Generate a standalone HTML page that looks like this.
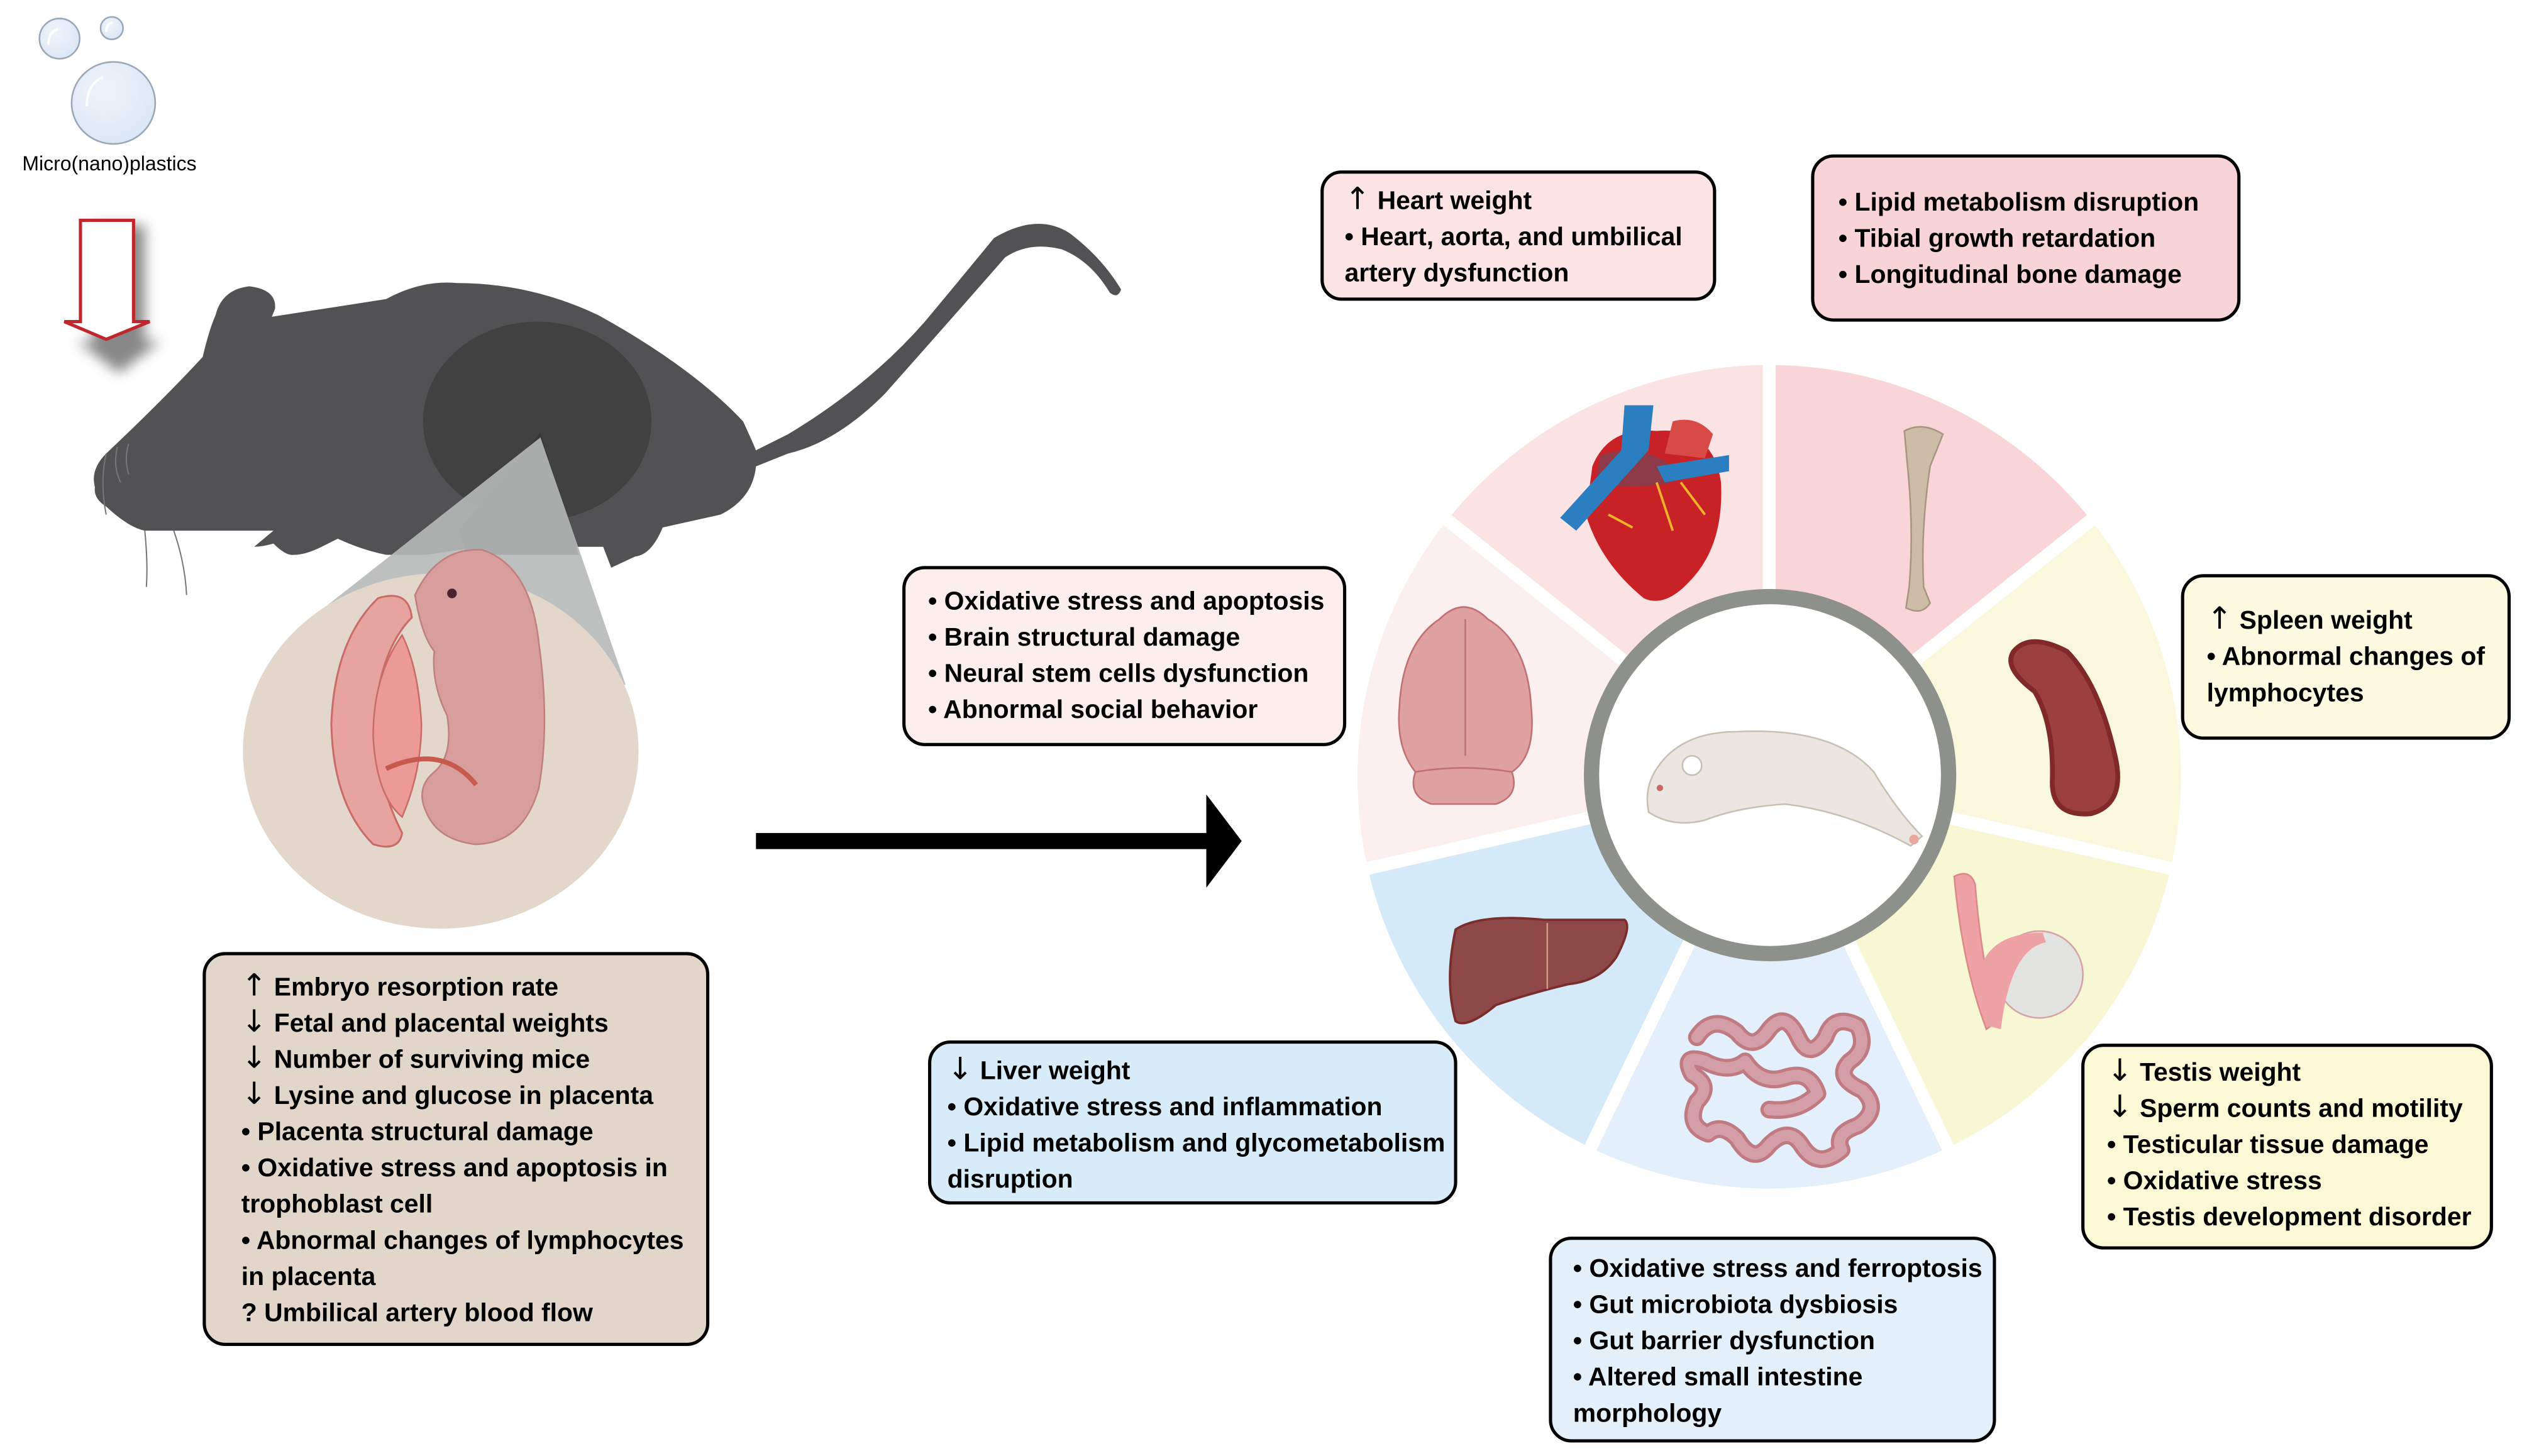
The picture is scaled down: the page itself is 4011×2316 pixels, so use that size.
<!DOCTYPE html>
<html><head><meta charset="utf-8"><style>
html,body{margin:0;padding:0;background:#fff}
svg{display:block}
text{font-family:"Liberation Sans",sans-serif;font-weight:bold;font-size:16px;fill:#000}
.ar{font-family:"DejaVu Sans",sans-serif;font-weight:normal;font-size:19px}
</style></head><body>
<svg width="4011" height="2316" viewBox="0 0 1568 905.4" xmlns="http://www.w3.org/2000/svg">
<defs>
<filter id="sh" x="-50%" y="-50%" width="200%" height="200%"><feGaussianBlur stdDeviation="4"/></filter>
<radialGradient id="bub" cx="0.4" cy="0.35" r="0.7"><stop offset="0" stop-color="#eef4fb"/><stop offset="1" stop-color="#dbe7f5"/></radialGradient>
</defs>
<rect width="1568" height="905.4" fill="#fff"/>

<!-- bubbles -->
<g stroke="#9aa7b8" stroke-width="1" fill="url(#bub)">
<ellipse cx="37" cy="24" rx="12.5" ry="12.5"/>
<ellipse cx="69.5" cy="17.5" rx="7" ry="7"/>
<ellipse cx="70.5" cy="64" rx="26" ry="25.5"/>
</g>
<g fill="none" stroke="#fff" stroke-width="1.5"><path d="M30 28 Q30 20 36 18"/><path d="M54 66 Q54 52 64 48"/><path d="M66 20 Q66 15 70 14"/></g>
<text x="68" y="106" text-anchor="middle" style="font-weight:normal;font-size:12.5px">Micro(nano)plastics</text>

<!-- red arrow -->
<path d="M58 140 h32 v72 h10 l-26 20 l-26 -20 h10z" fill="#555" filter="url(#sh)" opacity="0.7"/>
<path d="M50 137 h33 v63 h10 l-27 11 l-26 -11 h10z" fill="#fff" stroke="#c0272d" stroke-width="2"/>

<!-- mouse -->
<g fill="#525153">
<path d="M59 303 Q56 292 66 282 Q100 250 126 222 Q130 205 134 196 Q138 180 155 178 Q172 180 171 192 L169 197 L240 186 Q262 174 284 176 Q330 176 372 196 Q430 228 462 262 Q468 275 470 280 L490 270 Q540 240 575 200 Q600 170 618 148 Q645 132 665 145 Q685 160 697 180 Q695 186 690 182 Q678 162 660 155 Q640 150 625 160 Q590 200 550 245 Q520 275 490 282 L470 290 Q468 310 448 320 L412 328 Q405 345 395 346 L380 353 L375 340 L360 340 Q345 342 325 336 Q300 340 265 345 L240 345 Q225 342 210 335 L200 340 Q190 345 183 345 Q178 346 170 338 Q163 340 158 340 L170 330 Q140 330 90 330 Q80 328 66 315 Q58 310 59 303Z"/>
</g>
<ellipse cx="334" cy="262" rx="71" ry="62" fill="#414142"/>
<path d="M336 269 L285 330 L290 345 L360 345Z" fill="#383839"/>
<g stroke="#777" stroke-width="0.8" fill="none"><path d="M66 282 Q62 300 66 320"/><path d="M73 278 Q70 290 75 300"/><path d="M80 276 Q77 285 80 295"/><path d="M90 330 Q92 350 91 365"/><path d="M108 330 Q115 350 116 370"/></g>

<!-- beige circle with cone -->
<path d="M204 376 L336 272 L389 426Z" fill="#b7b9b9" opacity="0.9"/>
<ellipse cx="274" cy="467" rx="123" ry="110.5" fill="#e3d6cb"/>
<!-- embryo -->
<g>
<path d="M235 372 Q208 398 206 450 Q207 500 232 525 Q248 530 250 518 Q228 475 236 425 Q242 398 256 384 Q254 366 235 372Z" fill="#e7a3a0" stroke="#c96b66" stroke-width="1.2"/>
<path d="M250 395 Q232 420 232 458 Q234 495 250 508 Q262 480 262 450 Q260 415 250 395Z" fill="#eb9a97" stroke="#c96b66" stroke-width="1"/>
<path d="M258 370 Q272 340 300 342 Q330 352 335 400 Q342 450 335 490 Q325 525 295 525 Q272 522 265 505 Q258 490 270 480 Q282 470 278 445 Q268 425 270 405 Q262 395 258 370Z" fill="#d89e9d" stroke="#c08080" stroke-width="1"/>
<circle cx="281" cy="369" r="3" fill="#4a2530"/>
<path d="M240 478 Q275 462 296 488" stroke="#c65a4e" stroke-width="3" fill="none"/>
</g>

<!-- left text box -->
<rect x="127" y="593" width="313" height="243" rx="13" fill="#e2d6cb" stroke="#000" stroke-width="2"/>
<g>
<text x="150" y="619"><tspan class="ar">↑</tspan> Embryo resorption rate</text>
<text x="150" y="641.5"><tspan class="ar">↓</tspan> Fetal and placental weights</text>
<text x="150" y="664"><tspan class="ar">↓</tspan> Number of surviving mice</text>
<text x="150" y="686.5"><tspan class="ar">↓</tspan> Lysine and glucose in  placenta</text>
<text x="150" y="709">• Placenta structural damage</text>
<text x="150" y="731.5">• Oxidative stress and apoptosis in</text>
<text x="150" y="754">trophoblast cell</text>
<text x="150" y="776.5">• Abnormal changes of lymphocytes</text>
<text x="150" y="799">in  placenta</text>
<text x="150" y="821.5">? Umbilical artery blood flow</text>
</g>

<!-- big arrow -->
<rect x="470" y="518" width="284" height="10" fill="#000"/>
<path d="M750 494 L772 523 L750 552Z" fill="#000"/>

<!-- wheel -->
<g>
<path d="M1100 483 L1100 227 A256 256 0 0 1 1300.1 323.4Z" fill="#f9d5d7"/>
<path d="M1100 483 L1300.1 323.4 A256 256 0 0 1 1349.6 540Z" fill="#f9f8dc"/>
<path d="M1100 483 L1349.6 540 A256 256 0 0 1 1211.1 713.7Z" fill="#f8f7d3"/>
<path d="M1100 483 L1211.1 713.7 A256 256 0 0 1 988.9 713.7Z" fill="#e3effa"/>
<path d="M1100 483 L988.9 713.7 A256 256 0 0 1 850.4 540Z" fill="#d5eaf8"/>
<path d="M1100 483 L850.4 540 A256 256 0 0 1 899.9 323.4Z" fill="#fcefef"/>
<path d="M1100 483 L899.9 323.4 A256 256 0 0 1 1100 227Z" fill="#fbe3e3"/>
<g stroke="#fff" stroke-width="8">
<line x1="1100" y1="483" x2="1100" y2="220"/>
<line x1="1100" y1="483" x2="1305.6" y2="319"/>
<line x1="1100" y1="483" x2="1356.4" y2="541.6"/>
<line x1="1100" y1="483" x2="1214.2" y2="720"/>
<line x1="1100" y1="483" x2="985.8" y2="720"/>
<line x1="1100" y1="483" x2="843.6" y2="541.6"/>
<line x1="1100" y1="483" x2="894.4" y2="319"/>
</g>
<circle cx="1100.5" cy="482" r="111" fill="#fff" stroke="#8e918b" stroke-width="9.5"/>
</g>

<!-- organs -->
<!-- heart -->
<path d="M990 290 Q1000 265 1030 268 Q1065 265 1070 300 Q1072 340 1050 362 Q1035 378 1022 372 Q995 350 986 320Z" fill="#c92226"/>
<path d="M995 283 Q1020 275 1040 290 L1040 300 Q1015 305 992 300Z" fill="#8e3a48"/>
<path d="M1040 262 Q1055 258 1065 270 L1060 285 L1035 282Z" fill="#d84a45"/>
<path d="M1010 252 L1028 252 L1025 280 L980 330 L970 322 L1008 280Z" fill="#2b7fc0"/>
<path d="M1030 290 L1075 283 L1075 293 L1035 300Z" fill="#2b7fc0"/>
<g stroke="#f0b429" stroke-width="1.5" fill="none"><path d="M1030 300 L1040 330"/><path d="M1045 300 L1060 320"/><path d="M1000 320 L1015 328"/></g>
<!-- bone -->
<path d="M1184 268 Q1195 262 1208 270 L1200 290 Q1194 330 1196 365 L1200 375 Q1195 383 1185 378 L1187 365 Q1190 330 1186 290Z" fill="#cdbca7" stroke="#a89680" stroke-width="1"/>
<!-- spleen -->
<path d="M1252 405 Q1262 393 1285 405 Q1305 425 1315 470 Q1322 500 1300 506 Q1275 508 1276 485 Q1277 450 1265 430 Q1245 415 1252 405Z" fill="#9b3f3f" stroke="#80282a" stroke-width="3"/>
<!-- testis -->
<path d="M1215 545 Q1225 540 1228 550 Q1232 600 1242 635 L1235 640 Q1220 600 1215 545Z" fill="#eea2a6" stroke="#d88" stroke-width="1"/>
<circle cx="1268" cy="606" r="27" fill="#e3e3e1" stroke="#d6a3a3" stroke-width="1"/>
<path d="M1232 600 Q1240 580 1270 580 L1272 586 Q1250 590 1244 640 L1236 638Z" fill="#eea2a6"/>
<!-- intestine -->
<g fill="none" stroke-linecap="round" stroke-linejoin="round">
<path id="gut" d="M1055 645 Q1065 630 1080 642 Q1090 655 1100 640 Q1110 628 1118 645 Q1125 660 1135 645 Q1140 630 1155 638 Q1162 652 1150 660 Q1140 670 1158 678 Q1170 690 1155 700 Q1140 705 1145 715 Q1130 728 1120 712 Q1112 700 1100 712 Q1090 725 1080 708 Q1070 698 1062 705 Q1048 700 1055 685 Q1065 675 1052 668 Q1045 655 1060 660 Q1075 668 1085 660 Q1095 675 1110 670 Q1125 665 1130 680 Q1118 692 1100 690" stroke="#c07a82" stroke-width="11"/>
<path d="M1055 645 Q1065 630 1080 642 Q1090 655 1100 640 Q1110 628 1118 645 Q1125 660 1135 645 Q1140 630 1155 638 Q1162 652 1150 660 Q1140 670 1158 678 Q1170 690 1155 700 Q1140 705 1145 715 Q1130 728 1120 712 Q1112 700 1100 712 Q1090 725 1080 708 Q1070 698 1062 705 Q1048 700 1055 685 Q1065 675 1052 668 Q1045 655 1060 660 Q1075 668 1085 660 Q1095 675 1110 670 Q1125 665 1130 680 Q1118 692 1100 690" stroke="#d39ea5" stroke-width="7"/>
</g>
<!-- liver -->
<path d="M905 578 Q920 568 960 572 L1010 572 Q1015 576 1005 595 Q995 610 975 612 Q950 618 930 625 Q912 640 905 635 Q898 610 905 578Z" fill="#8f4848" stroke="#7a2d2d" stroke-width="1.5"/>
<line x1="962" y1="574" x2="962" y2="615" stroke="#c98" stroke-width="1"/>
<!-- brain -->
<path d="M895 385 Q910 370 925 385 Q950 400 952 440 Q955 470 940 480 Q945 495 930 500 L890 500 Q875 495 880 480 Q868 465 870 440 Q872 400 895 385Z" fill="#dea0a0" stroke="#c07070" stroke-width="1"/>
<line x1="911" y1="385" x2="911" y2="470" stroke="#c07070" stroke-width="1"/>
<path d="M880 480 Q910 475 940 480" stroke="#c07070" fill="none" stroke-width="1"/>
<!-- white rat -->
<path d="M1030 478 Q1045 455 1080 455 Q1140 452 1165 480 Q1180 505 1195 520 L1188 526 Q1150 505 1110 500 Q1080 502 1060 510 Q1040 515 1025 505 Q1022 490 1030 478Z" fill="#ebe6df" stroke="#c8bfb3" stroke-width="1"/>
<circle cx="1052" cy="476" r="6" fill="#fff" stroke="#c8bfb3" stroke-width="1"/>
<circle cx="1032" cy="490" r="2" fill="#c66"/>
<circle cx="1190" cy="522" r="3" fill="#e9a9a0"/>

<!-- boxes -->
<rect x="822" y="107" width="244" height="79" rx="12" fill="#fce4e4" stroke="#000" stroke-width="2"/>
<text x="836" y="130"><tspan class="ar">↑</tspan> Heart weight</text>
<text x="836" y="152.5">• Heart, aorta,  and umbilical</text>
<text x="836" y="175">artery dysfunction</text>

<rect x="1127" y="97" width="265" height="102" rx="13" fill="#f9d4d6" stroke="#000" stroke-width="2"/>
<text x="1143" y="131">• Lipid metabolism disruption</text>
<text x="1143" y="153.5">• Tibial growth retardation</text>
<text x="1143" y="176">• Longitudinal bone damage</text>

<rect x="562" y="353" width="274" height="110" rx="13" fill="#fdeeee" stroke="#000" stroke-width="2"/>
<text x="577" y="379">• Oxidative stress and apoptosis</text>
<text x="577" y="401.5">• Brain structural damage</text>
<text x="577" y="424">• Neural stem cells dysfunction</text>
<text x="577" y="446.5">• Abnormal social behavior</text>

<rect x="1357" y="358" width="203" height="101" rx="13" fill="#fbfae0" stroke="#000" stroke-width="2"/>
<text x="1372" y="391"><tspan class="ar">↑</tspan> Spleen weight</text>
<text x="1372" y="413.5">• Abnormal changes of</text>
<text x="1372" y="436">lymphocytes</text>

<rect x="578" y="648" width="327" height="100" rx="13" fill="#d8ebf8" stroke="#000" stroke-width="2"/>
<text x="589" y="671"><tspan class="ar">↓</tspan> Liver weight</text>
<text x="589" y="693.5">• Oxidative stress and inflammation</text>
<text x="589" y="716">• Lipid metabolism and glycometabolism</text>
<text x="589" y="738.5">disruption</text>

<rect x="1295" y="650" width="254" height="126" rx="13" fill="#fbf9d5" stroke="#000" stroke-width="2"/>
<text x="1310" y="672"><tspan class="ar">↓</tspan>  Testis weight</text>
<text x="1310" y="694.5"><tspan class="ar">↓</tspan> Sperm counts and motility</text>
<text x="1310" y="717">• Testicular tissue damage</text>
<text x="1310" y="739.5">• Oxidative stress</text>
<text x="1310" y="762">• Testis development disorder</text>

<rect x="964" y="770" width="276" height="126" rx="13" fill="#e3f0fa" stroke="#000" stroke-width="2"/>
<text x="978" y="794">• Oxidative stress and ferroptosis</text>
<text x="978" y="816.5">• Gut microbiota dysbiosis</text>
<text x="978" y="839">• Gut barrier dysfunction</text>
<text x="978" y="861.5">• Altered small intestine</text>
<text x="978" y="884">morphology</text>
</svg>
</body></html>
